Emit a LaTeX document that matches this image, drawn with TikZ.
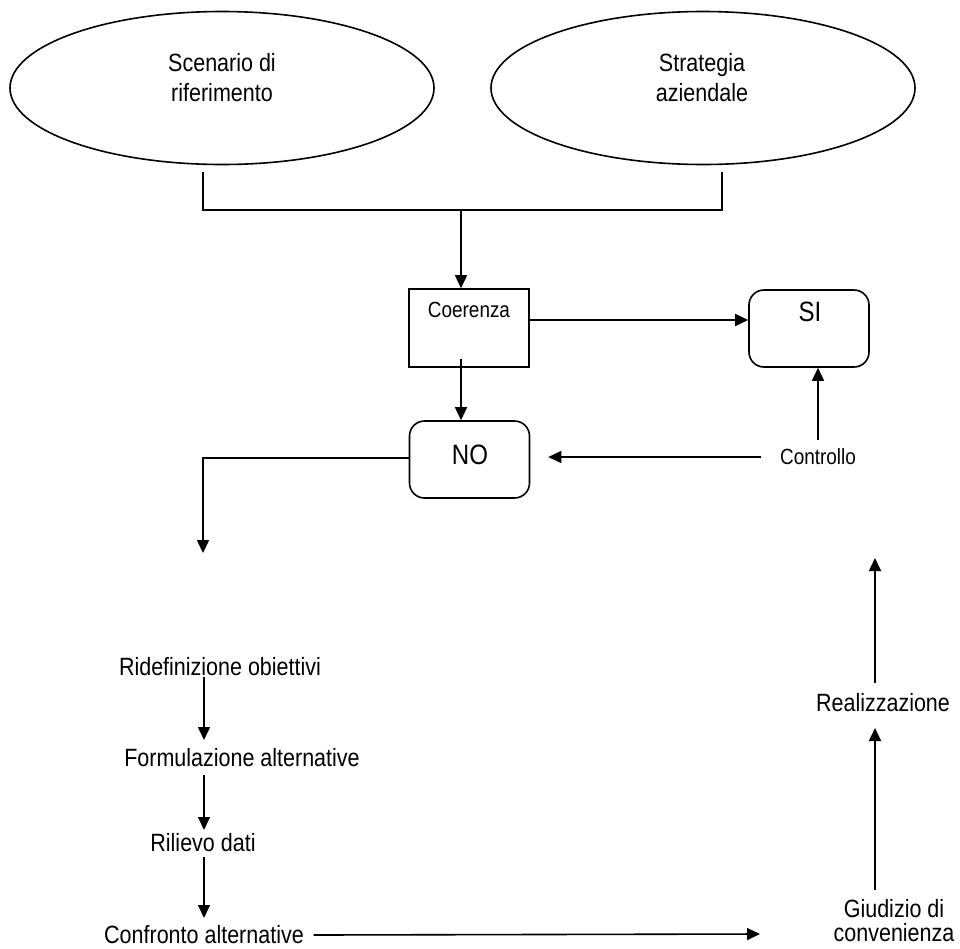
\documentclass[tikz,border=0pt]{standalone}
\usepackage{fontspec}
\setmainfont{Liberation Sans}[FakeStretch=0.86]
\usetikzlibrary{arrows.meta,calc,shapes.geometric}
\begin{document}
\begin{tikzpicture}[x=1pt,y=-1pt, line width=1.6pt,
  arr/.style={-{Triangle[length=13pt,width=12pt]}},
  lbl/.style={inner sep=0pt, font=\fontsize{25}{30}\selectfont, align=center},
  sml/.style={inner sep=0pt, font=\fontsize{22}{26}\selectfont},
  big/.style={inner sep=0pt, font=\fontsize{28}{32}\selectfont},
  oval/.style={draw, ellipse, minimum width=424pt, minimum height=153pt, inner sep=0pt},
  sqbox/.style={draw, rectangle, minimum width=120pt, minimum height=78pt, inner sep=0pt},
  rbox/.style={draw, rectangle, rounded corners=15pt, minimum width=120pt, minimum height=77pt, inner sep=0pt}]
\useasboundingbox (0,0) rectangle (960,948);

% ellipses
\node[oval] (sc) at (222,88) {};
\node[lbl] (sct) at (222,78) {Scenario di\\riferimento};
\node[oval] (st) at (703,88) {};
\node[lbl] (stt) at (702,78) {Strategia\\aziendale};

% bracket
\coordinate (bl) at (203,172);
\coordinate (br) at (722,172);
\coordinate (bm) at (461,210);
\draw (bl) |- (bm) -| (br);

% boxes
\node[sqbox] (coe) at (469,328) {};
\node[sml] (coet) at (469,310) {Coerenza};
\node[rbox] (si) at (809,328.5) {};
\node[big] (sit) at (810,312) {SI};
\node[rbox] (no) at (469.5,459.5) {};
\node[big] (not) at (470,455) {NO};
\node[sml] (ctl) at (818,457) {Controllo};

\draw[arr] (bm) -- (bm |- coe.north);
\draw[arr] (coe.east |- 0,320) -- (si.west |- 0,320);
\draw[arr] ($(coe.south)+(-8,-9)$) -- (no.north -| 461,0);
\draw[arr] ($(ctl.west)+(-18,0)$) -- ($(no.east)+(18,-2.5)$);
\draw[arr] ($(ctl.center)+(0,-17)$) -- (si.south -| ctl.center);

% NO branch
\coordinate (dn) at (203,553);
\draw[arr] (no.west |- 0,458) -| (dn);

% left column
\node[lbl] (rid) at (220,667) {Ridefinizione obiettivi};
\node[lbl] (for) at (242,758) {Formulazione alternative};
\node[lbl] (ril) at (203,843) {Rilievo dati};
\node[lbl] (con) at (204,935) {Confronto alternative};
\draw[arr] (204,677) -- (204,740);
\draw[arr] (204,775) -- (204,830);
\draw[arr] (204,857) -- (204,918);

% right column
\node[lbl, font=\fontsize{25}{24}\selectfont] (giu) at (894,921) {Giudizio di\\convenienza};
\node[lbl] (rea) at (883,703) {Realizzazione};
\coordinate (top) at (875,558);
\coordinate (cend) at (760,934);
\draw[arr] ($(con.east)+(9,0)$) -- (cend);
\draw[arr] (875,890) -- (875,728);
\draw[arr] (875,683) -- (top);
\end{tikzpicture}
\end{document}
